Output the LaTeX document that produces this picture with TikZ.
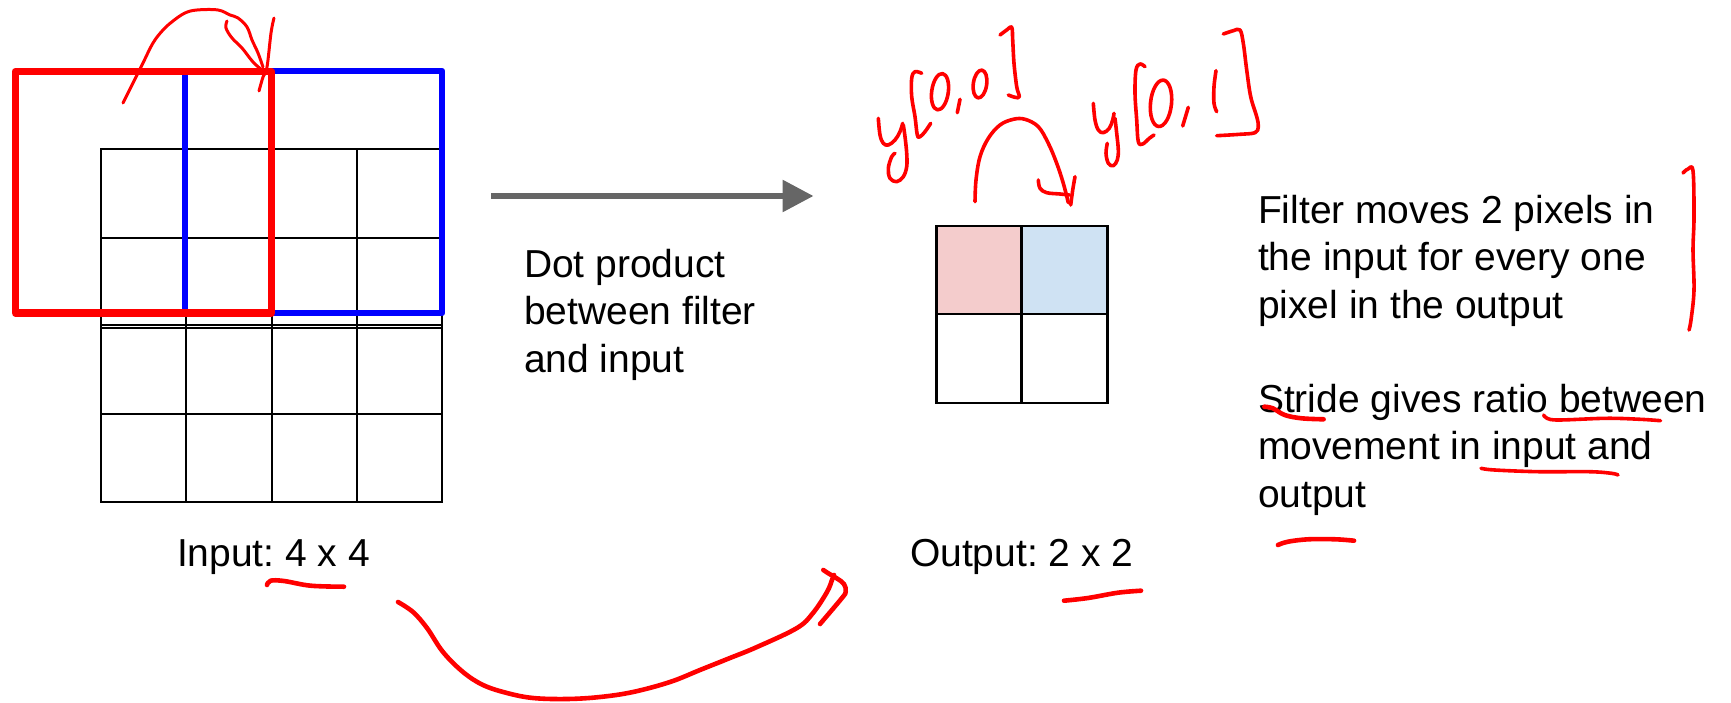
\documentclass[tikz,border=0pt]{standalone}
\usepackage{fontspec}
\setmainfont{Liberation Sans}
\usetikzlibrary{arrows.meta}
\definecolor{pinkcell}{HTML}{F4CCCC}
\definecolor{bluecell}{HTML}{CFE2F3}
\definecolor{arrowgray}{HTML}{666666}
\frenchspacing
\begin{document}
\begin{tikzpicture}[x=1pt,y=-1pt,
  every node/.style={inner sep=0pt, outer sep=0pt},
  txt/.style={anchor=base west, align=left, font=\fontsize{39}{47.5}\selectfont},
  gridline/.style={black, line width=2.2pt, line cap=rect},
  outline/.style={black, line width=2.8pt, line cap=rect},
  ink/.style={red, line width=3.6pt, line cap=round, line join=round},
  thickink/.style={red, line width=4.6pt, line cap=round, line join=round}]
\useasboundingbox (0,0) rectangle (1731,703);

% ---------- input grid ----------
\foreach \x in {101,186,272,357,442} \draw[gridline] (\x,149) -- (\x,502);
\foreach \y in {149,238,414,502} \draw[gridline] (101,\y) -- (442,\y);
\draw[gridline, line width=2pt] (101,325) -- (442,325);
\draw[gridline, line width=2pt] (101,327.8) -- (442,327.8);

% filter windows
\draw[blue, line width=6.5pt, line join=round] (185,71) rectangle (442,313);
\draw[red, line width=7.3pt, line join=round] (15.3,71.5) rectangle (271.7,313);

% ---------- output grid ----------
\fill[pinkcell] (936.5,226) rectangle (1021.4,314);
\fill[bluecell] (1021.4,226) rectangle (1107.7,314);
\draw[outline] (936.5,226) rectangle (1107.7,403);
\draw[outline] (1021.4,226) -- (1021.4,403);
\draw[outline] (936.5,314) -- (1107.7,314);

% ---------- gray arrow ----------
\coordinate (arrS) at (491,196);
\coordinate (arrE) at (813.5,196);
\draw[arrowgray, line width=6pt, -{Triangle[length=31pt,width=31pt]}] (arrS) -- (arrE);

% ---------- texts (anchor = baseline of last line) ----------
\node[txt] (dot) at (524,372) {Dot product\\between filter\\and input};
\node[txt] (filt) at (1258,318) {Filter moves 2 pixels in\\the input for every one\\pixel in the output};
\node[txt] (stride) at (1258,507) {Stride gives ratio between\\movement in input and\\output};
\node[txt] (inlab) at (177,566) {Input: 4 x 4};
\node[txt] (outlab) at (910,566) {Output: 2 x 2};

% ---------- handwriting: top-left hop ----------
\draw[ink, line width=3pt] plot[smooth, tension=0.6] coordinates {(123,103) (133,83) (143,63) (153,43) (163,30) (173,21) (185,13) (197,10) (218,10) (230,15) (238,18) (247,27) (252,40) (258,53) (263,67)};
\draw[ink, line width=3pt] plot[smooth, tension=0.6] coordinates {(227,21) (226,28) (232,38) (242,48) (253,62) (262,70)};
\draw[ink, line width=3pt] plot[smooth, tension=0.6] coordinates {(274,18) (271,33) (267,67) (263,77) (259,91)};

% ---------- handwriting: y[0,0] ----------
\draw[ink] plot[smooth, tension=0.6] coordinates {(878.3,118.3) (880,135) (883.3,143.3) (888.3,145) (895,140) (900,131.7) (902.7,123.3)};
\draw[ink] plot[smooth, tension=0.6] coordinates {(903.3,125) (905,136.7) (906.7,153.3) (906.7,166.7) (903.3,176.7) (896.7,181.7) (890,178.3) (888.3,168.3) (891.7,156.7) (895,153.3)};
\draw[ink] plot[smooth, tension=0.6] coordinates {(921.7,73.3) (915,71.7) (911.7,78.3) (911.7,96.7) (915,116.7) (917.3,135) (920,136.7) (925,131.7) (930.7,123.3)};
\draw[ink, rotate around={-8:(940,91.7)}] (940,91.7) ellipse [x radius=8.3, y radius=18.3];
\draw[ink] (960,99.3) -- (957.3,112.7);
\draw[ink, rotate around={-8:(980,84)}] (980,84) ellipse [x radius=6.7, y radius=14];
\draw[ink] plot[smooth, tension=0.6] coordinates {(1000,35) (1006.7,30) (1011.7,27.3) (1012.7,40) (1014,63.3) (1016.7,86.7) (1019.3,96.7) (1015,97.3) (1008.3,95)};

% hop arrow between outputs
\draw[ink] plot[smooth, tension=0.6] coordinates {(975,201.7) (976,180) (980,156.7) (988.3,138.3) (1000,125) (1013.3,119.3) (1025,119.3) (1038.3,126.7) (1048.3,143.3) (1056.7,163.3) (1063.3,183.3) (1068.3,202.7)};
\draw[ink] plot[smooth, tension=0.6] coordinates {(1038.3,180) (1040,188.3) (1046.7,192.7) (1060,194) (1069.3,195)};
\draw[ink] plot[smooth, tension=0.6] coordinates {(1075,176.7) (1072.7,190) (1070.7,205)};

% ---------- handwriting: y[0,1] ----------
\draw[ink] plot[smooth, tension=0.6] coordinates {(1093.3,103.3) (1095,120) (1098.3,130) (1103.3,132.7) (1109.3,128.3) (1112.7,120) (1114,113.3)};
\draw[ink] plot[smooth, tension=0.6] coordinates {(1115,118.3) (1116.7,133.3) (1118.3,150) (1117.3,160) (1113.3,165.7) (1108.3,163.3) (1106,153.3) (1107.3,143.3)};
\draw[ink] plot[smooth, tension=0.6] coordinates {(1145,66.7) (1140,64) (1136,70) (1135,93.3) (1136.7,120) (1138.3,141.7) (1142.7,144) (1149.3,138.3) (1154,135)};
\draw[ink, rotate around={-6:(1161,103.3)}] (1161,103.3) ellipse [x radius=10.5, y radius=23.3];
\draw[ink] plot[smooth, tension=0.6] coordinates {(1188.3,107.3) (1185,118.3) (1182.7,126)};
\draw[ink] plot[smooth, tension=0.6] coordinates {(1216,70.7) (1214,86.7) (1214,103.3) (1216.7,111.7)};
\draw[ink] plot[smooth, tension=0.6] coordinates {(1223.3,34) (1233.3,30.7) (1240,30) (1243.3,43.3) (1246.7,70) (1250.7,96.7) (1256.7,116.7) (1258.3,126.7) (1255,132.7) (1240,134.3) (1216.7,135.7)};

% ---------- bracket and underlines ----------
\draw[ink] plot[smooth, tension=0.6] coordinates {(1683,173) (1688,169) (1693,171) (1694,217) (1693,250) (1694,290) (1691,320) (1689,330)};
\draw[thickink] plot[smooth, tension=0.6] coordinates {(1264.3,406.7) (1272.8,408.3) (1284.7,415) (1301.6,418.3) (1323.6,419.3)};
\draw[ink] plot[smooth, tension=0.6] coordinates {(1543.7,415) (1547,418.3) (1559,420) (1606.4,418.3) (1640.2,419.3) (1660.5,420.7)};
\draw[ink] plot[smooth, tension=0.6] coordinates {(1481,468.3) (1494.6,470) (1538.6,471.7) (1589.4,471.7) (1611.4,473.3) (1618,475)};
\draw[thickink] plot[smooth, tension=0.6] coordinates {(1277.9,545) (1288,541.7) (1308.4,539.3) (1335.5,539.3) (1354,540.7)};
\draw[thickink] plot[smooth, tension=0.6] coordinates {(267,585) (270.6,580.7) (284,581) (310.7,585.7) (344,586.7)};
\draw[thickink] plot[smooth, tension=0.6] coordinates {(1064,600.7) (1088,598) (1118,592.7) (1141,590.7)};

% ---------- bottom big curve ----------
\draw[thickink] plot[smooth, tension=0.6] coordinates {(398,602) (413,612) (427,628) (443,652) (463,672) (483,685) (507,693) (533,698) (567,699) (600,697) (633,692) (670,682) (700,670) (730,658) (757,647) (797,628) (813,613) (827,592) (832,580) (834,575)};
\draw[thickink] plot[smooth, tension=0.6] coordinates {(823.3,570) (828.3,573.3) (836.7,578.3) (844,584) (845.7,591.7) (841.7,598.3) (820,624)};
\end{tikzpicture}
\end{document}
